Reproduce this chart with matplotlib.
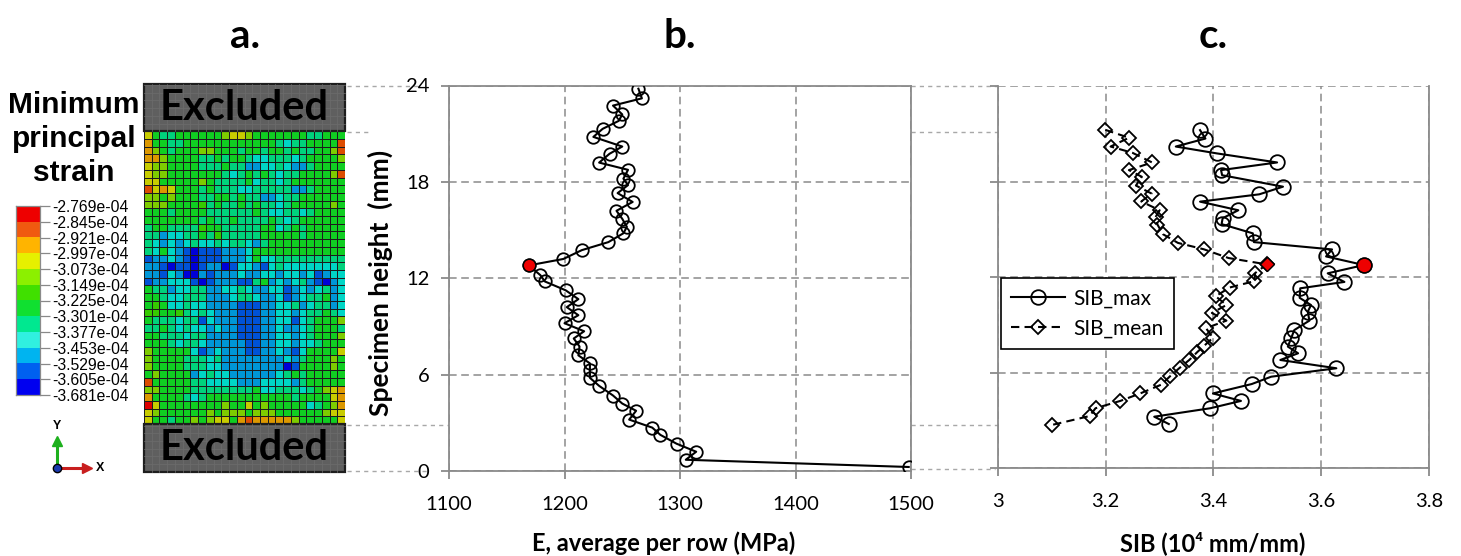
import numpy as np
import matplotlib
matplotlib.use("Agg")
import matplotlib.pyplot as plt
from matplotlib.colors import ListedColormap, BoundaryNorm
from matplotlib.lines import Line2D
from matplotlib.patches import Rectangle

# ---------------- data ----------------
strain_levels = ["-2.769e-04", "-2.845e-04", "-2.921e-04", "-2.997e-04",
                 "-3.073e-04", "-3.149e-04", "-3.225e-04", "-3.301e-04",
                 "-3.377e-04", "-3.453e-04", "-3.529e-04", "-3.605e-04",
                 "-3.681e-04"]

# level index per cell (0 = most negative / dark blue ... B = 11 = red), top row first
strain_grid = [
    "85445555557887555555544555",
    "9554455555555555543445555A",
    "9754555775554554554544557A",
    "99755554454554334443455557",
    "87755554445442233432245555",
    "8775555555434545434455557A",
    "88555557544445344345555555",
    "A8985554544433444442245555",
    "77575554455454422344555555",
    "77755556454454544345555575",
    "55545555444444543344345555",
    "55555554544544445434555555",
    "45544446554444455345455555",
    "44233445464444455555455555",
    "43232343343443245555555555",
    "43532101112223555555555555",
    "12232101112223533444444444",
    "22101101220133213433333334",
    "22132002122232233233231233",
    "12233310122211452323421023",
    "54423344223343223312323423",
    "55433444222344322312344523",
    "56533433222211122334234423",
    "66556434322211122332344543",
    "54443441322211122331345557",
    "44543433232211122322345554",
    "55444344222211122332345557",
    "55543443222221122332334555",
    "75555531232221122321355558",
    "75555444342222222232455575",
    "75555444332222222201555575",
    "57555523433222222345455555",
    "A5555544333322233332455555",
    "77555544444444533444345789",
    "95555434555555555554555589",
    "B8555555557558575555534579",
    "87555555757775777555555788",
    "8554557578859A999997555558",
]

height_E = [23.8, 23.2, 22.75, 22.2, 21.8, 21.3, 20.8, 20.2, 19.75, 19.2,
            18.75, 18.2, 17.8, 17.3, 16.75, 16.2, 15.7, 15.2, 14.8, 14.25,
            13.75, 13.2, 12.8, 12.2, 11.8, 11.25, 10.7, 10.2, 9.7, 9.2,
            8.7, 8.25, 7.75, 7.2, 6.7, 6.3, 5.8, 5.3, 4.7, 4.2,
            3.75, 3.2, 2.7, 2.25, 1.7, 1.2, 0.7, 0.25]
E_row = [1264, 1267, 1242, 1250, 1247, 1233, 1225, 1250, 1239, 1230,
         1255, 1251, 1255, 1246, 1259, 1245, 1250, 1254, 1251, 1238,
         1215, 1199, 1169, 1179, 1183, 1201, 1212, 1202, 1212, 1200,
         1217, 1208, 1213, 1212, 1222, 1222, 1222, 1230, 1242, 1250,
         1262, 1256, 1276, 1283, 1297, 1314, 1305, 1498]

height_max = [21.23, 20.7, 20.2, 19.77, 19.2, 18.72, 18.4, 17.68, 17.2, 16.74,
              16.2, 15.7, 15.33, 14.75, 14.2, 13.74, 13.3, 12.76, 12.24, 11.7,
              11.3, 10.7, 10.25, 9.83, 9.27, 8.68, 8.16, 7.64, 7.22, 6.8,
              6.28, 5.75, 5.29, 4.7, 4.23, 3.77, 3.24, 2.78]
SIB_max = [3.375, 3.385, 3.33, 3.406, 3.518, 3.414, 3.416, 3.529, 3.485, 3.375,
           3.446, 3.417, 3.415, 3.473, 3.475, 3.62, 3.609, 3.679, 3.612, 3.643,
           3.561, 3.56, 3.581, 3.575, 3.578, 3.55, 3.544, 3.538, 3.557, 3.524,
           3.628, 3.507, 3.471, 3.399, 3.451, 3.394, 3.29, 3.317]

height_mean = [21.25, 20.75, 20.2, 19.8, 19.2, 18.72, 18.3, 17.75, 17.25, 16.75,
               16.2, 15.8, 15.3, 14.7, 14.15, 13.75, 13.2, 12.8, 12.25, 11.75,
               11.35, 10.8, 10.25, 9.75, 9.27, 8.8, 8.2, 7.7, 7.3, 6.8,
               6.3, 5.8, 5.25, 4.7, 4.23, 3.77, 3.28, 2.72]
SIB_mean = [3.199, 3.243, 3.209, 3.25, 3.286, 3.243, 3.267, 3.256, 3.285, 3.266,
            3.30, 3.293, 3.296, 3.306, 3.334, 3.382, 3.428, 3.499, 3.477, 3.476,
            3.43, 3.404, 3.424, 3.397, 3.424, 3.386, 3.399, 3.383, 3.37, 3.355,
            3.337, 3.32, 3.303, 3.264, 3.227, 3.181, 3.17, 3.10]

E_ticks = [1100, 1200, 1300, 1400, 1500]
SIB_ticks = [3.0, 3.2, 3.4, 3.6, 3.8]
SIB_ticklabels = ["3", "3.2", "3.4", "3.6", "3.8"]
height_ticks = [0, 6, 12, 18, 24]

# ---------------- styling ----------------
legend_colors = ['#0000F0', '#0060F0', '#00B4F0', '#30F0E0', '#00E890', '#10E030',
                 '#40E000', '#8CF000', '#E6F000', '#FFB400', '#F05A10', '#EE0000']
cell_colors = ['#0000D8', '#0052D6', '#0096D6', '#00D6C6', '#00D27C', '#10CE22',
               '#36CA00', '#7ECC00', '#C8CC00', '#DC9800', '#DC4C00', '#DC0000']
MAP_TOP, MAP_BOTTOM = 21.15, 2.92
W, H = 1461, 556
GRID = '#8a8a8a'
DASH = (0, (5, 3))
FONT = ['Lato', 'DejaVu Sans']
ARIAL = ['Liberation Sans', 'DejaVu Sans']

fig = plt.figure(figsize=(W / 100, H / 100), dpi=100)


def box(x0, y0, x1, y1):
    return [x0 / W, 1 - y1 / H, (x1 - x0) / W, (y1 - y0) / H]


def fpt(x, y):
    return x / W, 1 - y / H


# ---------------- panel a ----------------
axA = fig.add_axes(box(144, 85.5, 345, 471))
axA.set_xlim(0, 26)
axA.set_ylim(0, 24)
axA.axis('off')
Z = np.array([[int(c, 16) for c in row] for row in strain_grid])[::-1]
ny, nx = Z.shape
xe = np.arange(nx + 1)
ye = np.linspace(MAP_BOTTOM, MAP_TOP, ny + 1)
axA.pcolormesh(xe, ye, Z, cmap=ListedColormap(cell_colors),
               norm=BoundaryNorm(np.arange(-0.5, 12.5, 1), 12),
               edgecolors='#1c1c1c', linewidth=0.7)
dy = (MAP_TOP - MAP_BOTTOM) / ny
for (y0, y1) in [(MAP_TOP, 24.08), (-0.05, MAP_BOTTOM)]:
    axA.add_patch(Rectangle((0, y0), nx, y1 - y0, fc='#5f5f5f', ec='#1e1e1e',
                            lw=1.6, clip_on=False, zorder=3))
    for x in range(1, nx):
        axA.plot([x, x], [y0, y1], color='#6c6c6c', lw=0.5, zorder=3.2, clip_on=False)
    for y in np.arange(y0 + dy, y1 - 0.05, dy):
        axA.plot([0, nx], [y, y], color='#6c6c6c', lw=0.5, zorder=3.2, clip_on=False)
    axA.text(nx / 2, (y0 + y1) / 2, 'Excluded', ha='center', va='center',
             fontsize=30, fontweight='bold', family=FONT, color='black', zorder=4)

# colour legend
axL = fig.add_axes(box(16, 206, 40, 395))
axL.imshow(np.arange(12)[::-1].reshape(-1, 1), cmap=ListedColormap(legend_colors),
           norm=BoundaryNorm(np.arange(-0.5, 12.5, 1), 12),
           extent=(0, 1, 0, 12), aspect='auto', interpolation='nearest')
axL.set_xticks([])
axL.set_yticks(np.arange(13))
axL.set_yticklabels(strain_levels[::-1], family=ARIAL, fontsize=11.3)
axL.yaxis.tick_right()
axL.tick_params(axis='y', direction='out', length=7.5, width=0.9, color='#888888', pad=1.5)
for s in axL.spines.values():
    s.set_color('#8a8a8a')
    s.set_linewidth(0.9)

for txt, yy in [('Minimum', 105), ('principal', 139), ('strain', 173)]:
    fig.text(*fpt(74, yy), txt, ha='center', va='center', fontsize=21.5,
             fontweight='bold', family=ARIAL)

# axis triad
ox, oy = 57, 468
fig.add_artist(Line2D([ox / W, ox / W], [1 - oy / H, 1 - 446 / H], color='#1db01d', lw=2.2))
fig.add_artist(Line2D([ox / W], [1 - 441 / H], marker='^', color='#1db01d', ms=7))
fig.add_artist(Line2D([ox / W, 82 / W], [1 - oy / H, 1 - oy / H], color='#c81e1e', lw=2.2))
fig.add_artist(Line2D([87 / W], [1 - oy / H], marker='>', color='#c81e1e', ms=7))
fig.add_artist(Line2D([ox / W], [1 - oy / H], marker='o', color='#1a3ab0', mec='black', ms=6))
fig.text(*fpt(57, 426), 'Y', ha='center', va='center', fontsize=9, fontweight='bold', family=ARIAL)
fig.text(*fpt(100, 468), 'X', ha='center', va='center', fontsize=9, fontweight='bold', family=ARIAL)


def style_axes(ax):
    for s in ax.spines.values():
        s.set_color(GRID)
        s.set_linewidth(1.3)
    ax.grid(True, color=GRID, ls=DASH, lw=1.1)
    ax.set_axisbelow(True)
    ax.tick_params(direction='out', length=6, width=1.3, color=GRID,
                   labelsize=14.5)
    ax.tick_params(axis='x', pad=12)
    ax.tick_params(axis='y', pad=8)
    for lab in ax.get_xticklabels() + ax.get_yticklabels():
        lab.set_family(FONT)


# ---------------- panel b ----------------
axB = fig.add_axes(box(449, 85.5, 911, 471))
axB.set_xlim(1100, 1500)
axB.set_ylim(0, 24)
axB.set_xticks(E_ticks)
axB.set_yticks(height_ticks)
style_axes(axB)
axB.plot(E_row, height_E, color='black', lw=1.5, marker='o', ms=9,
         mfc='none', mec='black', mew=1.3, zorder=3)
iE = int(np.argmin(E_row))
axB.plot([E_row[iE]], [height_E[iE]], 'o', ms=9, mfc='#ee0000', mec='black',
         mew=1.0, zorder=4)

# ---------------- panel c ----------------
axC = fig.add_axes(box(998, 86, 1429, 468.3))
axC.set_xlim(3.0, 3.8)
axC.set_ylim(0, 24)
axC.set_xticks(SIB_ticks)
axC.set_xticklabels(SIB_ticklabels)
axC.set_yticks(height_ticks)
axC.set_yticklabels([])
style_axes(axC)
axC.spines['top'].set_visible(False)
l1, = axC.plot(SIB_max, height_max, color='black', lw=1.5, marker='o', ms=10.5,
               mfc='none', mec='black', mew=1.3, zorder=3, label='SIB_max')
l2, = axC.plot(SIB_mean, height_mean, color='black', lw=1.5, ls=(0, (4, 2.5)),
               marker='D', ms=7.5, mfc='none', mec='black', mew=1.3, zorder=3,
               label='SIB_mean')
imx = int(np.argmax(SIB_max))
axC.plot([SIB_max[imx]], [height_max[imx]], 'o', ms=10.5, mfc='#ee0000', mec='black',
         mew=1.0, zorder=4)
imn = int(np.argmax(SIB_mean))
axC.plot([SIB_mean[imn]], [height_mean[imn]], 'D', ms=7.5, mfc='#ee0000', mec='black',
         mew=1.0, zorder=4)
leg = axC.legend(handles=[l1, l2], loc='upper left', bbox_to_anchor=(0.006, 0.498),
                 borderaxespad=0, fancybox=False, framealpha=1, edgecolor='black',
                 prop={'family': FONT, 'size': 15}, handlelength=2.6,
                 handletextpad=0.4, borderpad=0.5, labelspacing=0.5)
leg.get_frame().set_linewidth(1.2)

# ---------------- labels and titles ----------------
fig.text(*fpt(380, 283), 'Specimen height  (mm)', rotation=90, ha='center', va='center',
         fontsize=19, fontweight='bold', family=FONT)
fig.text(*fpt(664, 543), 'E, average per row (MPa)', ha='center', va='center',
         fontsize=17, fontweight='bold', family=FONT)
fig.text(*fpt(1213, 543), 'SIB (10\u2074 mm/mm)', ha='center', va='center',
         fontsize=17, fontweight='bold', family=FONT)
for t, x in [('a.', 245), ('b.', 680), ('c.', 1213)]:
    fig.text(*fpt(x, 36), t, ha='center', va='center', fontsize=29,
             fontweight='bold', family=FONT)

# ---------------- connecting dashed lines ----------------
for (x0, x1, y) in [(347, 418, 85.5), (911, 998, 85.5),
                    (347, 368, 131.5), (911, 1422, 131.5),
                    (347, 449, 424.5), (911, 1422, 424.5),
                    (347, 428, 471), (911, 995, 469)]:
    fig.add_artist(Line2D([x0 / W, x1 / W], [1 - y / H, 1 - y / H], color='#a8a8a8',
                          lw=1.0, ls=(0, (3, 3)), zorder=0))

fig.savefig('out.png', dpi=100)
